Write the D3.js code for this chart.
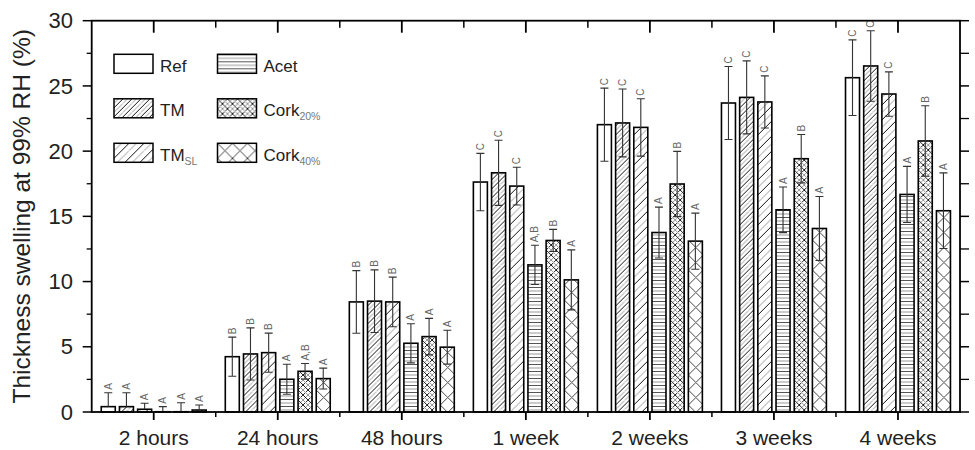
<!DOCTYPE html>
<html>
<head>
<meta charset="utf-8">
<script src="https://cdn.jsdelivr.net/npm/d3@7"></script>
<style>
  body { margin: 0; background: #fff; }
  svg { font-family: "Liberation Sans", Arial, sans-serif; }
</style>
</head>
<body>
<svg id="chart" width="975" height="450"></svg>
<script>
// time points on the x axis
var groups = ['2 hours', '24 hours', '48 hours', '1 week', '2 weeks', '3 weeks', '4 weeks'];
var series = ['Ref', 'TM', 'TMSL', 'Acet', 'Cork20', 'Cork40'];

// mean thickness swelling (%) and error per series
var refMean = [0.41, 4.24, 8.44, 17.63, 22.03, 23.69, 25.63];
var refErr = [1.07, 1.5, 2.4, 2.2, 2.8, 2.8, 2.9];
var tmMean = [0.41, 4.45, 8.5, 18.34, 22.16, 24.12, 26.53];
var tmErr = [1.07, 2.0, 2.4, 2.5, 2.6, 2.8, 2.7];
var tmslMean = [0.21, 4.55, 8.44, 17.32, 21.82, 23.77, 24.38];
var tmslErr = [0.46, 1.5, 1.9, 1.45, 2.2, 2.0, 1.7];
var acetMean = [0.02, 2.51, 5.27, 11.28, 13.76, 15.5, 16.68];
var acetErr = [0.39, 1.15, 1.5, 1.5, 1.95, 1.75, 2.15];
var cork20Mean = [0.02, 3.12, 5.78, 13.15, 17.48, 19.42, 20.78];
var cork20Err = [0.69, 0.6, 1.4, 0.85, 2.5, 1.85, 2.7];
var cork40Mean = [0.15, 2.56, 4.97, 10.13, 13.1, 14.07, 15.43];
var cork40Err = [0.39, 0.8, 1.3, 2.3, 2.15, 2.45, 2.9];

// significance letters
var refLetters = ['A', 'B', 'B', 'C', 'C', 'C', 'C'];
var tmLetters = ['A', 'B', 'B', 'C', 'C', 'C', 'C'];
var tmslLetters = ['A', 'B', 'B', 'C', 'C', 'C', 'C'];
var acetLetters = ['A', 'A', 'A', 'A,B', 'A', 'A', 'A'];
var cork20Letters = ['A', 'A,B', 'A', 'B', 'B', 'B', 'B'];
var cork40Letters = ['A', 'A', 'A', 'A', 'A', 'A', 'A'];

var yTicks = [0, 5, 10, 15, 20, 25, 30];
var yMinor = [2.5, 7.5, 12.5, 17.5, 22.5, 27.5];

var means = [refMean, tmMean, tmslMean, acetMean, cork20Mean, cork40Mean];
var errs = [refErr, tmErr, tmslErr, acetErr, cork20Err, cork40Err];
var letters = [refLetters, tmLetters, tmslLetters, acetLetters, cork20Letters, cork40Letters];

var svg = d3.select('#chart');
var mLeft = 91.7, mRight = 960, mTop = 20.7, mBottom = 412;

var x0 = d3.scaleBand().domain(groups).range([mLeft, mRight]).padding(0);
var x1 = d3.scaleBand().domain(series).range([0, x0.bandwidth()])
    .paddingInner(0.23).paddingOuter(0.525);
var y = d3.scaleLinear().domain([0, 30]).range([mBottom, mTop]);

// ---- hatch patterns
var defs = svg.append('defs');
function diag(id, s, dark, light, cross) {
  var p = defs.append('pattern').attr('id', id)
      .attr('patternUnits', 'userSpaceOnUse').attr('width', s).attr('height', s);
  p.append('rect').attr('width', s).attr('height', s).attr('fill', '#fff');
  var h = s / 2;
  function fwd(c, w, off) {
    var d = off === 0
      ? 'M0,' + s + 'L' + s + ',0M-1,1L1,-1M' + (s - 1) + ',' + (s + 1) + 'L' + (s + 1) + ',' + (s - 1)
      : 'M0,' + h + 'L' + h + ',0M' + h + ',' + s + 'L' + s + ',' + h;
    p.append('path').attr('d', d).attr('stroke', c).attr('stroke-width', w);
  }
  function back(c, w, off) {
    var d = off === 0
      ? 'M0,0L' + s + ',' + s + 'M-1,' + (s - 1) + 'L1,' + (s + 1) + 'M' + (s - 1) + ',-1L' + (s + 1) + ',1'
      : 'M' + h + ',0L' + s + ',' + h + 'M0,' + h + 'L' + h + ',' + s;
    p.append('path').attr('d', d).attr('stroke', c).attr('stroke-width', w);
  }
  fwd(dark, 1, 0);
  if (light) fwd(light, 1, 1);
  if (cross) {
    back(dark, 1, 0);
    if (light) back(light, 1, 1);
  }
}
diag('p-tm', 9, '#111', '#999', false);
diag('p-tmsl', 15, '#111', '#999', false);
diag('p-cork20', 10, '#222', '#999', true);
diag('p-cork40', 15, '#444', null, true);
var ph = defs.append('pattern').attr('id', 'p-acet')
    .attr('patternUnits', 'userSpaceOnUse').attr('width', 8).attr('height', 7);
ph.append('rect').attr('width', 8).attr('height', 7).attr('fill', '#fff');
ph.append('line').attr('x1', 0).attr('x2', 8).attr('y1', 0.5).attr('y2', 0.5).attr('stroke', '#555');
ph.append('line').attr('x1', 0).attr('x2', 8).attr('y1', 4).attr('y2', 4).attr('stroke', '#999');

var fills = {Ref: '#fff', TM: 'url(#p-tm)', TMSL: 'url(#p-tmsl)', Acet: 'url(#p-acet)',
  Cork20: 'url(#p-cork20)', Cork40: 'url(#p-cork40)'};

// ---- bars
var rows = [];
series.forEach(function (s, si) {
  groups.forEach(function (g, gi) {
    rows.push({s: s, g: g, v: means[si][gi], e: errs[si][gi], l: letters[si][gi]});
  });
});

var bar = svg.append('g').selectAll('g').data(rows).enter().append('g')
    .attr('transform', function (d) { return 'translate(' + (x0(d.g) + x1(d.s)) + ',0)'; });
var bw = x1.bandwidth();

bar.append('rect')
    .attr('x', 0).attr('width', bw)
    .attr('y', function (d) { return y(d.v); })
    .attr('height', function (d) { return y(0) - y(d.v); })
    .attr('fill', function (d) { return fills[d.s]; })
    .attr('stroke', '#000').attr('stroke-width', 1.6);

// error bars (up and down from the bar top)
var cap = 4;
bar.append('path')
    .attr('d', function (d) {
      var cx = bw / 2, t = y(d.v + d.e), m = y(d.v);
      var path = 'M' + cx + ',' + m + 'V' + t + 'M' + (cx - cap) + ',' + t + 'H' + (cx + cap);
      if (d.v - d.e > 0) {
        var b = y(d.v - d.e);
        path += 'M' + cx + ',' + m + 'V' + b + 'M' + (cx - cap) + ',' + b + 'H' + (cx + cap);
      }
      return path;
    })
    .attr('fill', 'none').attr('stroke', '#333').attr('stroke-width', 1.1);

bar.append('text')
    .attr('transform', function (d) { return 'translate(' + (bw / 2) + ',' + (y(d.v + d.e) - 3) + ') rotate(-90)'; })
    .attr('dy', '0.35em')
    .attr('font-size', 10).attr('fill', '#666')
    .text(function (d) { return d.l; });

// ---- axes
var bounds = groups.map(function (g) { return x0(g); }).concat([mRight]);
var ax = svg.append('g').attr('stroke', '#000');
ax.append('rect').attr('x', mLeft).attr('y', mTop).attr('width', mRight - mLeft).attr('height', mBottom - mTop)
    .attr('fill', 'none').attr('stroke-width', 1.8);

groups.forEach(function (g) {
  var cx = x0(g) + x0.bandwidth() / 2;
  ax.append('line').attr('x1', cx).attr('x2', cx).attr('y1', mBottom).attr('y2', mBottom + 8).attr('stroke-width', 1.8);
  ax.append('line').attr('x1', cx).attr('x2', cx).attr('y1', mTop).attr('y2', mTop + 12).attr('stroke-width', 1.8);
});
bounds.slice(1, -1).forEach(function (bx) {
  ax.append('line').attr('x1', bx).attr('x2', bx).attr('y1', mBottom).attr('y2', mBottom + 5).attr('stroke-width', 1.5);
  ax.append('line').attr('x1', bx).attr('x2', bx).attr('y1', mTop).attr('y2', mTop + 7).attr('stroke-width', 1.5);
});
yTicks.forEach(function (t) {
  ax.append('line').attr('x1', mLeft - 9).attr('x2', mLeft).attr('y1', y(t)).attr('y2', y(t)).attr('stroke-width', 1.5);
  ax.append('line').attr('x1', mRight).attr('x2', mRight + 9).attr('y1', y(t)).attr('y2', y(t)).attr('stroke-width', 1.5);
});
yMinor.forEach(function (t) {
  ax.append('line').attr('x1', mLeft - 5).attr('x2', mLeft).attr('y1', y(t)).attr('y2', y(t)).attr('stroke-width', 1.3);
  ax.append('line').attr('x1', mRight).attr('x2', mRight + 9).attr('y1', y(t)).attr('y2', y(t)).attr('stroke-width', 1.3);
});

svg.append('g').selectAll('text').data(yTicks).enter().append('text')
    .attr('x', 73).attr('y', function (d) { return y(d); })
    .attr('dy', '0.35em').attr('text-anchor', 'end')
    .attr('font-size', 22).attr('fill', '#222')
    .text(function (d) { return d; });

svg.append('g').selectAll('text').data(groups).enter().append('text')
    .attr('x', function (d) { return x0(d) + x0.bandwidth() / 2; })
    .attr('y', 445).attr('text-anchor', 'middle')
    .attr('font-size', 21).attr('fill', '#222')
    .text(function (d) { return d; });

svg.append('text')
    .attr('transform', 'translate(30,' + ((mTop + mBottom) / 2) + ') rotate(-90)')
    .attr('text-anchor', 'middle').attr('font-size', 24.5).attr('fill', '#222')
    .text('Thickness swelling at 99% RH (%)');

// ---- legend
var legend = [
  {s: 'Ref', t: 'Ref', sub: ''}, {s: 'TM', t: 'TM', sub: ''}, {s: 'TMSL', t: 'TM', sub: 'SL'},
  {s: 'Acet', t: 'Acet', sub: ''}, {s: 'Cork20', t: 'Cork', sub: '20%'}, {s: 'Cork40', t: 'Cork', sub: '40%'}
];
var lg = svg.append('g').selectAll('g').data(legend).enter().append('g')
    .attr('transform', function (d, i) {
      return 'translate(' + (i < 3 ? 114 : 217.5) + ',' + (54.3 + (i % 3) * 44.5) + ')';
    });
lg.append('rect').attr('width', 39).attr('height', 19)
    .attr('fill', function (d) { return fills[d.s]; })
    .attr('stroke', '#000').attr('stroke-width', 1.5);
var lt = lg.append('text').attr('x', 46).attr('y', 17.5).attr('font-size', 17).attr('fill', '#222');
lt.append('tspan').text(function (d) { return d.t; });
lt.append('tspan').attr('dy', 4).attr('font-size', 10.5).attr('fill', '#777')
    .text(function (d) { return d.sub; });
</script>
</body>
</html>
